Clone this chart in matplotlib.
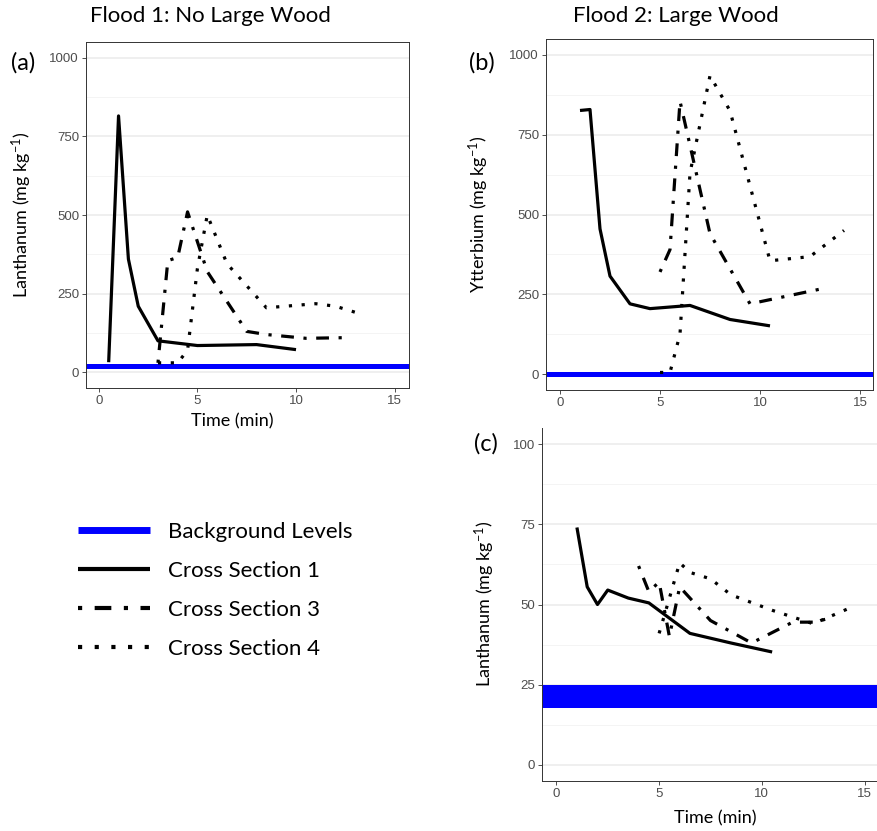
import matplotlib
matplotlib.use("Agg")
import matplotlib.pyplot as plt
from matplotlib.lines import Line2D
from matplotlib.ticker import MultipleLocator

# ---------------- data ----------------
# Panel (a): Flood 1, Lanthanum
a_cs1_t = [0.5, 1, 1.5, 2, 3, 5, 8, 10]
a_cs1_v = [32, 815, 360, 210, 100, 85, 88, 72]
a_cs3_t = [3, 3.5, 4, 4.5, 5.5, 7.5, 8.5, 10.5, 12.5]
a_cs3_v = [30, 355, 365, 510, 320, 130, 120, 108, 110]
a_cs4_t = [3, 4, 4.5, 5, 5.5, 6.5, 8.5, 11, 12, 13.3]
a_cs4_v = [30, 30, 70, 330, 500, 345, 205, 218, 210, 185]
a_bg = 21

# Panel (b): Flood 2, Ytterbium
b_cs1_t = [1, 1.5, 2, 2.5, 3.5, 4.5, 6.5, 8.5, 10.5]
b_cs1_v = [826, 829, 455, 307, 220, 205, 215, 171, 151]
b_cs3_t = [5, 5.5, 6, 7.5, 9.5, 13.3]
b_cs3_v = [320, 390, 855, 440, 220, 270]
b_cs4_t = [5, 5.5, 6, 6.5, 7.5, 8.5, 10.5, 12.5, 14.2]
b_cs4_v = [5, 5, 125, 630, 935, 825, 355, 368, 450]
b_bg = 0

# Panel (c): Flood 2, Lanthanum
c_cs1_t = [1, 1.5, 2, 2.5, 3.5, 4.5, 6.5, 8.5, 10.5]
c_cs1_v = [74, 55.5, 50, 54.5, 52, 50.5, 41, 38, 35.2]
c_cs3_t = [4, 4.5, 5, 5.5, 6, 7.5, 9.5, 11.5, 12.5, 13.5]
c_cs3_v = [62, 54, 57, 40, 55.5, 45, 38, 44.5, 44.5, 46]
c_cs4_t = [5, 5.5, 6, 6.5, 7.5, 8.5, 10.5, 12.5, 14.2]
c_cs4_v = [41, 52, 63, 60, 58, 53, 48.2, 44, 48.7]
c_bg_low, c_bg_high = 17.8, 25

x_ticks = [0, 5, 10, 15]
titles = ["Flood 1: No Large Wood", "Flood 2: Large Wood"]
legend_labels = ["Background Levels", "Cross Section 1", "Cross Section 3", "Cross Section 4"]

# ---------------- style ----------------
plt.rcParams['font.family'] = ['Lato', 'DejaVu Sans']
plt.rcParams['mathtext.fontset'] = 'custom'
plt.rcParams['mathtext.rm'] = 'Lato'
plt.rcParams['mathtext.it'] = 'Lato:italic'

LW = 2.3
STY = {
    'cs1': dict(color='black', lw=LW, linestyle='-', solid_capstyle='butt'),
    'cs3': dict(color='black', lw=LW, linestyle=(0, (1, 3, 4, 3)), dash_capstyle='butt'),
    'cs4': dict(color='black', lw=LW, linestyle=(0, (1, 3)), dash_capstyle='butt'),
}
BLUE = '#0000FF'
TICK_FONT = ['Liberation Sans', 'DejaVu Sans']
YLAB_FS = 13
XLAB_FS = 13

W, H = 878, 831
fig = plt.figure(figsize=(W / 100, H / 100), dpi=100)


def px_axes(l, t, r, b):
    return fig.add_axes([l / W, 1 - b / H, (r - l) / W, (b - t) / H])


def style_axes(ax, ymajor, yminor):
    ax.set_facecolor('white')
    ax.yaxis.set_major_locator(MultipleLocator(ymajor))
    ax.yaxis.set_minor_locator(MultipleLocator(yminor))
    ax.set_xticks(x_ticks)
    ax.grid(True, which='major', axis='y', color='#EBEBEB', lw=1.1, zorder=0)
    ax.grid(True, which='minor', axis='y', color='#F2F2F2', lw=0.6, zorder=0)
    ax.grid(False, axis='x')
    ax.set_axisbelow(True)
    ax.tick_params(which='major', length=3, width=0.6, color='#333333',
                   labelcolor='#4D4D4D', labelsize=9.5, pad=2)
    ax.tick_params(which='minor', length=0)
    for lab in ax.get_xticklabels() + ax.get_yticklabels():
        lab.set_fontfamily(TICK_FONT)
    for s in ax.spines.values():
        s.set_color('#333333')
        s.set_linewidth(0.7)


# ---------------- panel (a) ----------------
axa = px_axes(86, 42, 409, 388)
axa.axhline(a_bg, color=BLUE, lw=3.6, zorder=2)
axa.plot(a_cs1_t, a_cs1_v, **STY['cs1'], zorder=3)
axa.plot(a_cs3_t, a_cs3_v, **STY['cs3'], zorder=3)
axa.plot(a_cs4_t, a_cs4_v, **STY['cs4'], zorder=3)
axa.set_xlim(-0.65, 15.73)
axa.set_ylim(-50, 1050)
style_axes(axa, 250, 125)
axa.set_ylabel("Lanthanum (mg kg$^{-1}$)", fontsize=YLAB_FS, va='center')
axa.yaxis.set_label_coords((22 - 86) / 323, 0.5)
axa.set_xlabel("Time (min)", fontsize=XLAB_FS, va='center')
axa.xaxis.set_label_coords((232 - 86) / 323, (388 - 421) / 346)

# ---------------- panel (b) ----------------
axb = px_axes(546, 39, 873, 390)
axb.axhline(b_bg, color=BLUE, lw=3.6, zorder=2)
axb.plot(b_cs1_t, b_cs1_v, **STY['cs1'], zorder=3)
axb.plot(b_cs3_t, b_cs3_v, **STY['cs3'], zorder=3)
axb.plot(b_cs4_t, b_cs4_v, **STY['cs4'], zorder=3)
axb.set_xlim(-0.7, 15.65)
axb.set_ylim(-50, 1050)
style_axes(axb, 250, 125)
axb.set_ylabel("Ytterbium (mg kg$^{-1}$)", fontsize=YLAB_FS, va='center')
axb.yaxis.set_label_coords((479 - 546) / 327, 0.5)

# ---------------- panel (c) ----------------
axc = px_axes(542, 428, 879, 781)
axc.axhspan(c_bg_low, c_bg_high, color=BLUE, lw=0, zorder=2)
axc.plot(c_cs1_t, c_cs1_v, **STY['cs1'], zorder=3)
axc.plot(c_cs3_t, c_cs3_v, **STY['cs3'], zorder=3)
axc.plot(c_cs4_t, c_cs4_v, **STY['cs4'], zorder=3)
axc.set_xlim(-0.7, 15.7)
axc.set_ylim(-5, 105)
style_axes(axc, 25, 12.5)
axc.spines['top'].set_visible(False)
axc.spines['right'].set_visible(False)
axc.set_ylabel("Lanthanum (mg kg$^{-1}$)", fontsize=YLAB_FS, va='center')
axc.yaxis.set_label_coords((485 - 542) / 337, (781 - 604) / 353)
axc.set_xlabel("Time (min)", fontsize=XLAB_FS, va='center')
axc.xaxis.set_label_coords((715 - 542) / 337, (781 - 818) / 353)

# ---------------- titles & panel letters ----------------
fig.text(210 / W, 1 - 16 / H, titles[0], ha='center', va='center', fontsize=16)
fig.text(676 / W, 1 - 16 / H, titles[1], ha='center', va='center', fontsize=16)
fig.text(23 / W, 1 - 63 / H, "(a)", ha='center', va='center', fontsize=17)
fig.text(482 / W, 1 - 63 / H, "(b)", ha='center', va='center', fontsize=17)
fig.text(486 / W, 1 - 444 / H, "(c)", ha='center', va='center', fontsize=17)

# ---------------- legend ----------------
handles = [
    Line2D([], [], color=BLUE, lw=5, solid_capstyle='butt'),
    Line2D([], [], **dict(STY['cs1'], lw=3)),
    Line2D([], [], **dict(STY['cs3'], lw=3)),
    Line2D([], [], **dict(STY['cs4'], lw=3)),
]
fig.legend(handles, legend_labels, loc='upper left',
           bbox_to_anchor=(78 / W, 1 - 522 / H), frameon=False,
           fontsize=16, handlelength=3.24, handletextpad=0.8,
           labelspacing=0.85, borderpad=0, borderaxespad=0)

fig.savefig("out.png", dpi=100, facecolor='white')
